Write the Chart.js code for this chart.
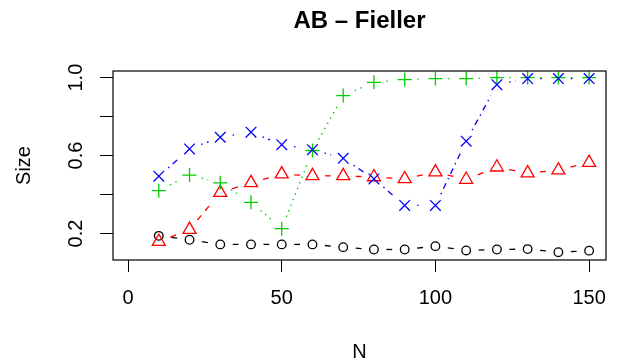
<!DOCTYPE html>
<html>
<head>
<meta charset="utf-8">
<script src="https://cdn.jsdelivr.net/npm/chart.js@4"></script>
<style>
  body { margin: 0; background: #fff; }
  #wrap { width: 626px; height: 364px; position: relative; }
</style>
</head>
<body>
<div id="wrap"><canvas id="chart"></canvas></div>
<script>
// sample sizes on the x axis
const N = [10, 20, 30, 40, 50, 60, 70, 80, 90, 100, 110, 120, 130, 140, 150];

// estimated size for each series
const blackCircles = [0.188, 0.168, 0.144, 0.144, 0.144, 0.144, 0.130, 0.118, 0.118, 0.135, 0.113, 0.118, 0.120, 0.104, 0.112];
const redTriangles = [0.158, 0.220, 0.410, 0.460, 0.505, 0.496, 0.496, 0.490, 0.480, 0.515, 0.477, 0.540, 0.510, 0.525, 0.564];
const greenPlus = [0.420, 0.500, 0.460, 0.360, 0.225, 0.626, 0.908, 0.976, 0.990, 0.995, 0.995, 1.000, 1.000, 1.000, 1.000];
const blueCross = [0.494, 0.634, 0.694, 0.720, 0.656, 0.630, 0.586, 0.480, 0.344, 0.344, 0.674, 0.964, 0.995, 0.995, 0.995];

// axis ticks
const xTicks = [0, 50, 100, 150];
const yTicks = [0.2, 0.4, 0.6, 0.8, 1.0];
const yLabelled = ['0.2', '0.6', '1.0'];

const font = "'Liberation Sans', Arial, Helvetica, sans-serif";
const gap = 12.5; // gap left around each point (like type = "b")

// build a dash array for one segment: blank near both points, line pattern in between
function gapDash(ctx, pattern) {
    const L = Math.hypot(ctx.p1.x - ctx.p0.x, ctx.p1.y - ctx.p0.y);
    if (L <= 2 * gap) return [0, L + 1];
    let remaining = L - 2 * gap;
    const dash = [0, gap];
    if (pattern.length === 0) {
        dash.push(remaining, gap);
        return dash;
    }
    let k = 0;
    while (remaining > 0.001) {
        const piece = Math.min(pattern[k % pattern.length], remaining);
        dash.push(piece);
        remaining -= piece;
        k++;
    }
    if (dash.length % 2 === 1) {
        dash.push(gap);
    } else {
        dash[dash.length - 1] += gap;
    }
    return dash;
}

function series(values, color, pointStyle, radius, pattern, order) {
    return {
        data: N.map((n, i) => ({ x: n, y: values[i] })),
        borderColor: color,
        borderWidth: 1.3,
        pointStyle: pointStyle,
        pointRadius: radius,
        pointBorderColor: color,
        pointBackgroundColor: 'rgba(0,0,0,0)',
        pointBorderWidth: 1.3,
        tension: 0,
        fill: false,
        order: order,
        segment: {
            borderDash: ctx => gapDash(ctx, pattern)
        }
    };
}

// plot frame like R's box()
const boxPlugin = {
    id: 'box',
    afterDraw(chart) {
        const { ctx, chartArea } = chart;
        ctx.save();
        ctx.strokeStyle = '#000';
        ctx.lineWidth = 1.2;
        ctx.strokeRect(chartArea.left, chartArea.top, chartArea.right - chartArea.left, chartArea.bottom - chartArea.top);
        ctx.restore();
    }
};

new Chart(document.getElementById('chart').getContext('2d'), {
    type: 'line',
    data: {
        datasets: [
            series(blackCircles, '#000000', 'circle', 4.3, [], 3),
            series(redTriangles, '#FF0000', 'triangle', 7.5, [6, 6], 2),
            series(greenPlus, '#00CD00', 'cross', 7, [1.5, 4.5], 1),
            series(blueCross, '#0000FF', 'crossRot', 7.5, [1.5, 4.5, 6, 4.5], 0)
        ]
    },
    options: {
        responsive: true,
        maintainAspectRatio: false,
        animation: false,
        events: [],
        layout: { padding: { top: 0, right: 20, bottom: 0, left: 0 } },
        plugins: {
            legend: { display: false },
            tooltip: { enabled: false },
            title: {
                display: true,
                fullSize: false,
                text: 'AB \u2013 Fieller',
                color: '#000',
                font: { family: font, size: 24, weight: 'bold' },
                padding: { top: 6.6, bottom: 35.6 }
            }
        },
        scales: {
            x: {
                type: 'linear',
                min: -4.9,
                max: 155.5,
                afterBuildTicks: s => { s.ticks = xTicks.map(v => ({ value: v })); },
                afterFit: s => { s.height = 104; },
                grid: { display: true, drawOnChartArea: false, drawTicks: true, tickLength: 12, color: '#000', lineWidth: 1 },
                border: { display: false },
                ticks: {
                    color: '#000',
                    font: { family: font, size: 20 },
                    padding: 14,
                    maxRotation: 0,
                    autoSkip: false
                },
                title: {
                    display: true,
                    text: 'N',
                    color: '#000',
                    font: { family: font, size: 20 },
                    padding: { top: 0, bottom: 0 }
                }
            },
            y: {
                type: 'linear',
                min: 0.064,
                max: 1.034,
                afterBuildTicks: s => { s.ticks = yTicks.map(v => ({ value: v })); },
                afterFit: s => { s.width = 113; },
                grid: { display: true, drawOnChartArea: false, drawTicks: true, tickLength: 13, color: '#000', lineWidth: 1 },
                border: { display: false },
                ticks: {
                    color: '#000',
                    font: { family: font, size: 20 },
                    padding: 10,
                    minRotation: 90,
                    maxRotation: 90,
                    crossAlign: 'center',
                    autoSkip: false,
                    callback: v => {
                        const label = v.toFixed(1);
                        return yLabelled.includes(label) ? label : '';
                    }
                },
                title: {
                    display: true,
                    text: 'Size',
                    color: '#000',
                    font: { family: font, size: 20 },
                    padding: { top: 12, bottom: 0 }
                }
            }
        }
    },
    plugins: [boxPlugin]
});
</script>
</body>
</html>
